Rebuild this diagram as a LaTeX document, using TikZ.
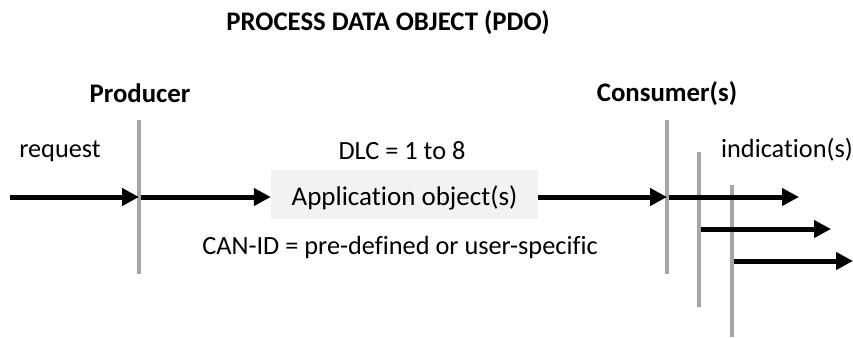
\documentclass[tikz,border=0pt]{standalone}
\usepackage{fontspec}
\setmainfont{Carlito}[Ligatures=NoCommon]
\usetikzlibrary{arrows.meta}
\definecolor{bargray}{HTML}{A6A6A6}
\definecolor{boxgray}{HTML}{F2F2F2}
\begin{document}
\begin{tikzpicture}[x=1pt,y=-1pt,
  txt/.style={font=\fontsize{26.3}{30}\selectfont, inner sep=0pt, anchor=base},
  bold/.style={inner sep=0pt, anchor=base, font=\fontsize{26.8}{30}\selectfont\bfseries},
  bar/.style={fill=bargray, draw=none, minimum width=4pt, inner sep=0pt},
  arr/.style={line width=5pt, -{Triangle[length=17pt,width=17pt]}},
  appbox/.style={fill=boxgray, draw=none, minimum width=267pt, minimum height=49pt, inner sep=0pt,
    text height=21pt, text depth=0pt, font=\fontsize{27}{30}\selectfont}]
\useasboundingbox (0,0) rectangle (853,337);
\node[bold] (title) at (388,31) {PROCESS DATA OBJECT (PDO)};
\node[bold] (prodlbl) at (140,102) {Producer};
\node[bold] (conslbl) at (667,101) {Consumer(s)};
\node[txt] (req) at (60,157) {request};
\node[txt] (ind) at (787,157) {indication(s)};
\node[txt] (dlc) at (402,159) {DLC = 1 to 8};
\node[txt] (canid) at (400,254) {CAN-ID = pre-defined or user-specific};
\node[bar, minimum height=154pt] (prod) at (139,197) {};
\node[bar, minimum height=154pt] (c1) at (667,197) {};
\node[bar, minimum height=155pt] (c2) at (699,229) {};
\node[bar, minimum height=152pt] (c3) at (732,261) {};
\node[appbox] (app) at (404.5,194.5) {Application object(s)};
\coordinate (in) at (10,197);
\coordinate (o1) at (799,197);
\coordinate (o2) at (831,229);
\coordinate (o3) at (853,261);
\draw[arr] (in) -- (prod.center);
\draw[arr] (prod.east) -- (app.west |- prod.east);
\draw[arr] (app.east |- c1.west) -- (c1.center);
\draw[arr] (c1.east) -- (o1);
\draw[arr] (c2.east) -- (o2);
\draw[arr] (c3.east) -- (o3);
\end{tikzpicture}
\end{document}
